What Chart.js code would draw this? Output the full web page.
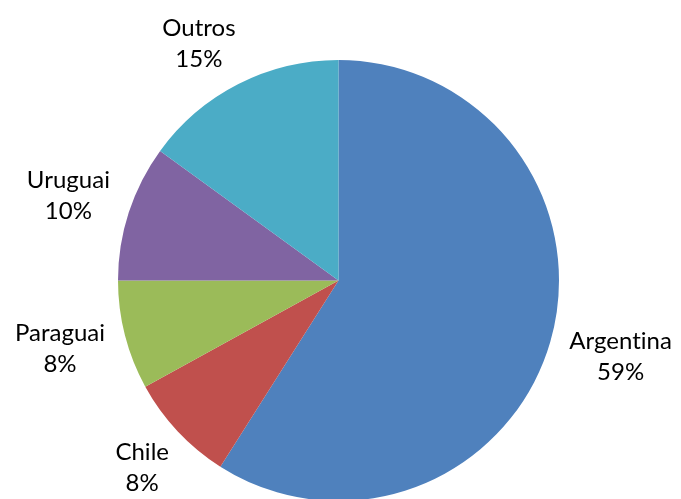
<!DOCTYPE html>
<html>
<head>
<meta charset="utf-8">
<script src="https://cdn.jsdelivr.net/npm/chart.js@4.4.1/dist/chart.umd.min.js"></script>
<style>
  html, body { margin: 0; padding: 0; background: #fff; overflow: hidden; }
  canvas { display: block; }
</style>
</head>
<body>
<canvas id="origem" width="681" height="502"></canvas>
<script>
var paises = ["Argentina", "Chile", "Paraguai", "Uruguai", "Outros"];
var participacao = [59, 8, 8, 10, 15];
var cores = ["#4F81BD", "#C0504D", "#9BBB59", "#8064A2", "#4BACC6"];

// labels outside each slice: name on top, percent below
var rotulosFora = {
  id: "rotulosFora",
  afterDatasetsDraw: function(chart) {
    var ctx = chart.ctx;
    var meta = chart.getDatasetMeta(0);
    var total = participacao.reduce(function(a, b) { return a + b; }, 0);
    var gap = 22, lineH = 31, topMin = 11;
    ctx.save();
    ctx.font = "24px Lato";
    ctx.letterSpacing = "0.01px"; // keeps "ti" from turning into a ligature
    ctx.fillStyle = "#000";
    ctx.textAlign = "center";
    ctx.textBaseline = "middle";
    meta.data.forEach(function(arc, i) {
      var p = arc.getProps(["x", "y", "startAngle", "endAngle", "outerRadius"], true);
      var linhas = [paises[i], Math.round(participacao[i] / total * 100) + "%"];
      var halfW = Math.max(ctx.measureText(linhas[0]).width, ctx.measureText(linhas[1]).width) / 2;
      var halfH = lineH;
      var ang = (p.startAngle + p.endAngle) / 2;
      var cx, cy;
      for (var k = 0; k < 90; k++) {
        var dx = Math.cos(ang), dy = Math.sin(ang);
        cx = p.x + dx * (p.outerRadius + gap) + dx * halfW;
        cy = p.y + dy * (p.outerRadius + gap) + dy * halfH;
        if (cy - halfH >= topMin) break;
        // slide along the ring, away from the top edge
        ang += (dx < 0 ? -1 : 1) * Math.PI / 180;
      }
      ctx.fillText(linhas[0], cx, cy - lineH / 2);
      ctx.fillText(linhas[1], cx, cy + lineH / 2);
    });
    ctx.restore();
  }
};

var chartData = {
  labels: paises,
  datasets: [{
    data: participacao,
    backgroundColor: cores,
    borderWidth: 0,
    hoverOffset: 0,
    offset: 0
  }]
};

var config = {
  type: "pie",
  data: chartData,
  options: {
    responsive: false,
    animation: false,
    devicePixelRatio: 1,
    layout: { padding: { top: 60, bottom: 1, left: 118, right: 122 } },
    plugins: {
      legend: { display: false },
      tooltip: { enabled: false }
    }
  },
  plugins: [rotulosFora]
};

var grafico = new Chart(document.getElementById("origem"), config);
</script>
</body>
</html>
